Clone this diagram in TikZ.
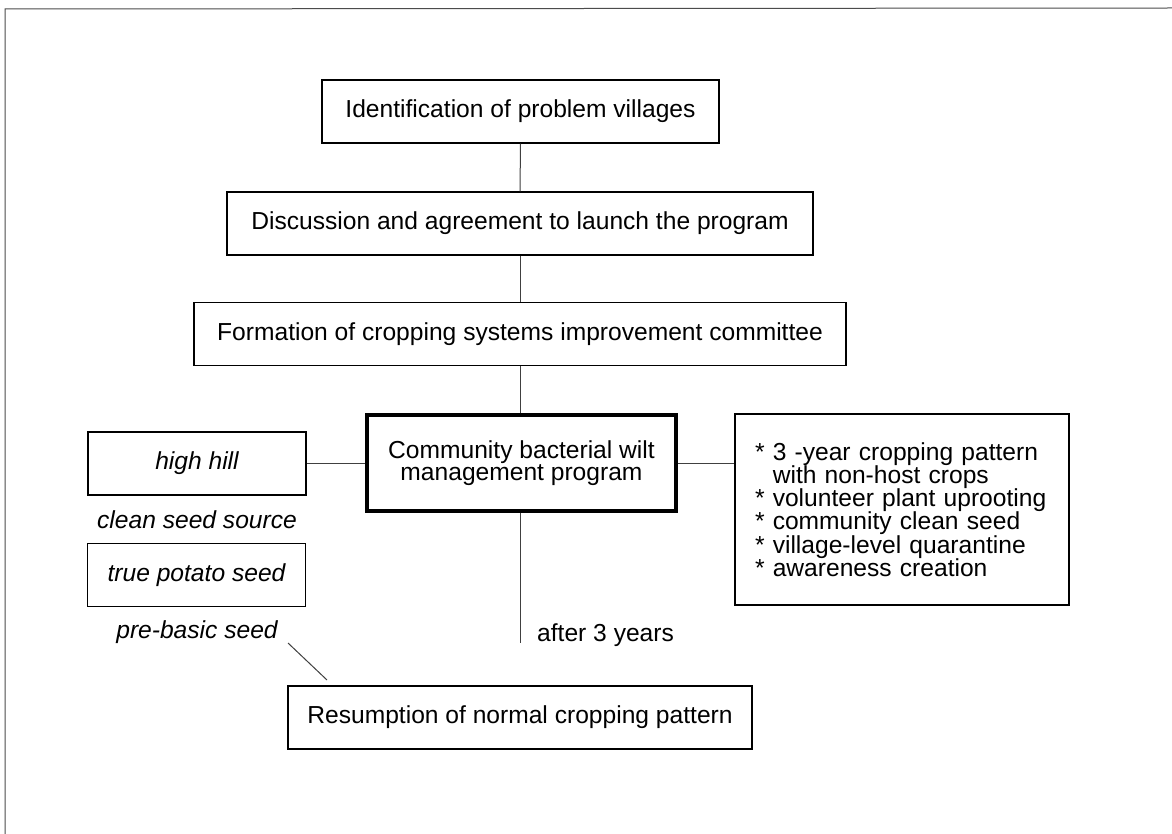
\documentclass[tikz,border=0pt]{standalone}
\usepackage{fontspec}
\setmainfont{Liberation Sans}
\usetikzlibrary{calc}
\newcommand{\listmark}{{*}\ }
\tikzset{
  stagebox/.style={draw=black, line width=1.1pt, inner sep=0pt, minimum height=63pt, align=center,
    font=\fontsize{24.6}{23}\selectfont},
  mainbox/.style={draw=black, line width=3.5pt, inner sep=0pt, align=center,
    font=\fontsize{24.6}{22.5}\selectfont},
  listbox/.style={draw=black, line width=1.1pt, inner xsep=20pt, inner ysep=0pt, align=left,
    font=\fontsize{24.6}{23.3}\selectfont},
  seedbox/.style={draw=black, line width=1.1pt, inner sep=0pt, minimum width=218pt, minimum height=63pt,
    font=\fontsize{24.6}{23}\selectfont\itshape},
  caption/.style={inner sep=0pt, font=\fontsize{24.6}{23}\selectfont\itshape},
  plainlabel/.style={inner sep=0pt, font=\fontsize{24.6}{23}\selectfont},
  link/.style={draw=black!75, line width=1pt},
  frame/.style={draw=black!70, line width=1pt}
}
\begin{document}
\begin{tikzpicture}[x=1pt,y=-1pt]
\useasboundingbox (0,0) rectangle (1172,834);
\fill[white] (0,0) rectangle (1172,834);
% partial frame
\coordinate (fTL) at (5,9);
\coordinate (fTR) at (1172,8);
\coordinate (fBL) at (5,834);
\draw[frame] (fTR) -- (fTL) -- (fBL);

% stages
\node[stagebox, minimum width=397pt] (b1) at (520.5,111.5) {Identification of problem villages};
\node[stagebox, minimum width=586pt] (b2) at (520,223.5) {Discussion and agreement to launch the program};
\node[stagebox, minimum width=652pt] (b3) at (520,334) {Formation of cropping systems improvement committee};
\node[mainbox, minimum width=309pt, minimum height=96pt] (prog) at (521.5,463) {Community bacterial wilt\\management program};
\node[listbox, text width=294pt, minimum height=191pt] (list) at (902,509.5)
  {\listmark 3 -year cropping pattern\\[0pt]
   \phantom{\listmark}with non-host crops\\[0pt]
   \listmark volunteer plant uprooting\\[0pt]
   \listmark community clean seed\\[0pt]
   \listmark village-level quarantine\\[0pt]
   \listmark awareness creation};

% seed sources
\node[seedbox] (hill) at (197,463.5) {high hill};
\node[caption] (clean) at (197,520) {clean seed source};
\node[seedbox] (tps) at (196.5,575) {true potato seed};
\node[caption] (prebasic) at (197,632) {pre-basic seed};

% resumption
\node[stagebox, minimum width=464pt] (resume) at (520,717.5) {Resumption of normal cropping pattern};
\node[plainlabel, anchor=west] (after) at (537,635) {after 3 years};

% connectors
\draw[link] (b1.south) -- (b2.south |- b2.north);
\draw[link] (b2.south) -- (b2.south |- b3.north);
\draw[link] (b3.south) -- (b3.south |- prog.north);
\draw[link] (hill.east) -- (hill.east -| prog.west);
\draw[link] (prog.east) -- (prog.east -| list.west);
\coordinate (progend) at (520,643);
\draw[link] (prog.south -| progend) -- (progend);
\coordinate (diagA) at (288,643);
\coordinate (diagB) at (327,680);
\draw[link] (diagA) -- (diagB);
\end{tikzpicture}
\end{document}
